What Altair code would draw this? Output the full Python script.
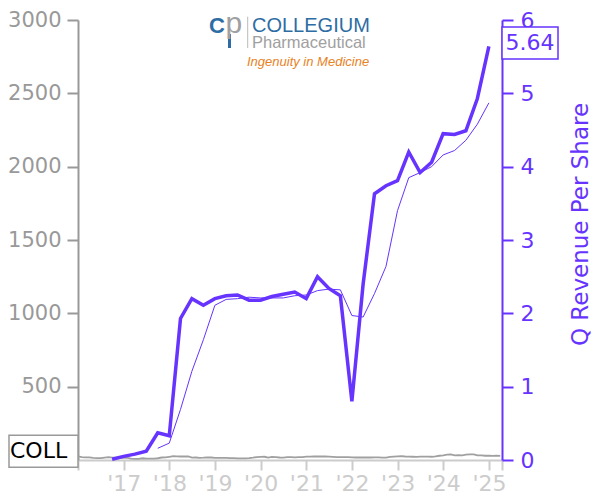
import altair as alt
import pandas as pd

# ---------------- data ----------------
quarter_ends = [
    "2016-09-30", "2016-12-31", "2017-03-31", "2017-06-30", "2017-09-30", "2017-12-31",
    "2018-03-31", "2018-06-30", "2018-09-30", "2018-12-31", "2019-03-31", "2019-06-30",
    "2019-09-30", "2019-12-31", "2020-03-31", "2020-06-30", "2020-09-30", "2020-12-31",
    "2021-03-31", "2021-06-30", "2021-09-30", "2021-12-31", "2022-03-31", "2022-06-30",
    "2022-09-30", "2022-12-31", "2023-03-31", "2023-06-30", "2023-09-30", "2023-12-31",
    "2024-03-31", "2024-06-30", "2024-09-30", "2024-12-31",
]
rev_per_share = [
    0.01, 0.05, 0.08, 0.12, 0.37, 0.33,
    1.93, 2.20, 2.11, 2.20, 2.24, 2.25,
    2.18, 2.18, 2.23, 2.26, 2.29, 2.20,
    2.50, 2.34, 2.24, 0.80, 2.40, 3.63,
    3.74, 3.81, 4.20, 3.92, 4.06, 4.45,
    4.44, 4.49, 4.93, 5.64,
]
avg_per_share = [
    None, None, None, None, 0.16, 0.23,
    0.69, 1.21, 1.64, 2.11, 2.19, 2.20,
    2.22, 2.21, 2.21, 2.21, 2.24, 2.25,
    2.31, 2.33, 2.32, 1.97, 1.95, 2.27,
    2.64, 3.40, 3.85, 3.92, 4.00, 4.16,
    4.22, 4.36, 4.58, 4.87,
]
price_months = [d.strftime("%Y-%m-%dT00:00:00") for d in pd.date_range("2016-01-01", "2025-04-01", freq="MS")]
price = [
    25, 20, 18, 18, 15, 13, 13, 16, 19, 16, 16, 15,
    15, 15, 10, 8, 8, 12, 10, 9, 10, 12, 17, 18,
    22, 26, 25, 24, 24, 24, 16, 17, 15, 16, 18, 17,
    15, 15, 15, 14, 13, 13, 11, 11, 11, 13, 16, 20,
    21, 22, 16, 21, 20, 17, 16, 19, 19, 18, 19, 20,
    23, 23, 24, 24, 24, 24, 23, 21, 19, 19, 19, 19,
    18, 17, 17, 17, 17, 17, 18, 18, 16, 16, 21, 23,
    25, 27, 24, 23, 22, 21, 23, 23, 23, 22, 24, 29,
    32, 37, 38, 32, 33, 32, 36, 38, 38, 32, 31, 29,
    30, 28, 29, 28,
]
ticker = "COLL"
right_title = "Q Revenue Per Share"
left_ticks = [500, 1000, 1500, 2000, 2500, 3000]
right_ticks = [0, 1, 2, 3, 4, 5, 6]
tick_years = list(range(2016, 2026))

df_q = pd.DataFrame({
    "date": [d + "T00:00:00" for d in quarter_ends],
    "rev": rev_per_share,
    "avg": avg_per_share,
})
df_p = pd.DataFrame({"date": price_months, "price": price})
df_q_last = df_q.tail(1)
df_p_last = df_p.tail(1)

purple = "#6633ff"
font = "DejaVu Sans"

x_vals = [alt.DateTime(year=y, month=1, date=1) for y in tick_years] + [alt.DateTime(year=2025, month=4, date=15)]
x_scale = alt.Scale(domain=[alt.DateTime(year=2016, month=1, date=1), alt.DateTime(year=2025, month=4, date=15)])
x_axis = alt.Axis(
    values=x_vals,
    labelExpr="(year(datum.value) < 2017 || month(datum.value) > 0) ? '' : \"'\" + timeFormat(datum.value, '%y')",
    domainColor="#cccccc", domainWidth=2, tickColor="#cccccc", tickWidth=2, tickSize=10,
    labelColor="#cccccc", labelFontSize=22, labelFont=font, labelPadding=3,
    labelFlush=False, labelOverlap=False, grid=False, title=None,
)
x_enc = alt.X("date:T", scale=x_scale, axis=x_axis)

left_scale = alt.Scale(domain=[0, 3000])
left_axis = alt.Axis(
    orient="left", values=left_ticks, format="d", tickSize=11, tickWidth=2, tickColor="#999999",
    domainColor="#999999", domainWidth=2, labelColor="#999999", labelFontSize=21,
    labelFont=font, labelPadding=6, labelFlush=False, grid=False, title=None,
)
right_scale = alt.Scale(domain=[0, 6])
right_axis = alt.Axis(
    orient="right", values=right_ticks, format="d", tickSize=11, tickWidth=2, tickColor=purple,
    domainColor=purple, domainWidth=2, labelColor=purple, labelFontSize=22,
    labelFont=font, labelPadding=7, labelFlush=False, grid=False,
    title=right_title, titleColor=purple, titleFontSize=23, titleFont=font,
    titleFontWeight="normal", titleAngle=270, titleAlign="center", titleBaseline="middle",
    titleX=78, titleY=204,
)

# ---------------- left (price) layers ----------------
y_left = alt.Y("price:Q", scale=left_scale, axis=left_axis)
price_line = alt.Chart(df_p).mark_line(color="#a0a0a0", strokeWidth=1.8).encode(
    x=x_enc, y=y_left
)
coll_box = alt.Chart(df_p_last).mark_point(
    shape="M-1,-0.464L1,-0.464L1,0.464L-1,0.464Z", size=69 * 69, filled=True,
    fill="white", stroke="#999999", strokeWidth=1.5, opacity=1, yOffset=-4.7,
).encode(x=alt.value(-34.5), y=y_left)
coll_text = alt.Chart(df_p_last).mark_text(
    align="left", baseline="middle", fontSize=22, font=font, color="black", yOffset=-4.7,
).encode(x=alt.value(-68), y=y_left, text=alt.value(ticker))
left = alt.layer(price_line, coll_box, coll_text)

# ---------------- right (revenue per share) layers ----------------
avg_line = alt.Chart(df_q).mark_line(color=purple, strokeWidth=1).encode(
    x=x_enc, y=alt.Y("avg:Q", scale=right_scale, axis=right_axis)
)
rev_line = alt.Chart(df_q).mark_line(color=purple, strokeWidth=3.5).encode(
    x=x_enc, y=alt.Y("rev:Q", scale=right_scale, axis=right_axis)
)
rev_box = alt.Chart(df_q_last).mark_point(
    shape="M-1,-0.571L1,-0.571L1,0.571L-1,0.571Z", size=56 * 56, filled=True,
    fill="white", stroke=purple, strokeWidth=1.5, opacity=1, yOffset=-3.5,
).encode(x=alt.value(452), y=alt.Y("rev:Q", scale=right_scale, axis=right_axis))
rev_text = alt.Chart(df_q_last).mark_text(
    align="center", baseline="middle", fontSize=22, font=font, color=purple, yOffset=-3.5,
).encode(x=alt.value(452), y=alt.Y("rev:Q", scale=right_scale, axis=right_axis),
         text=alt.Text("rev:Q", format=".2f"))
right = alt.layer(avg_line, rev_line, rev_box, rev_text)

# ---------------- logo (text) ----------------
one = pd.DataFrame({"k": [0]})
logo_stem = alt.Chart(one).mark_rule(color="#2e6da4", strokeWidth=3).encode(
    x=alt.value(151.5), y=alt.value(14), y2=alt.value(28)
)
logo_c = alt.Chart(one).mark_text(
    text="C", align="left", baseline="alphabetic", fontSize=22, font="Liberation Sans",
    fontWeight="bold", color="#2e6da4",
).encode(x=alt.value(131), y=alt.value(13))
logo_p = alt.Chart(one).mark_text(
    text="p", align="left", baseline="alphabetic", fontSize=30, font="Liberation Sans",
    color="#a0a0a0",
).encode(x=alt.value(147.5), y=alt.value(13))
logo_div = alt.Chart(one).mark_rule(color="#bbbbbb", strokeWidth=1).encode(
    x=alt.value(169.7), y=alt.value(-3.3), y2=alt.value(28)
)
logo_name = alt.Chart(one).mark_text(
    text="COLLEGIUM", align="left", baseline="alphabetic", fontSize=20,
    font="Liberation Sans", color="#2e6da4",
).encode(x=alt.value(174), y=alt.value(12.3))
logo_pharma = alt.Chart(one).mark_text(
    text="Pharmaceutical", align="left", baseline="alphabetic", fontSize=16.5,
    font="Liberation Sans", color="#a0a0a0",
).encode(x=alt.value(174), y=alt.value(27.5))
logo_tag = alt.Chart(one).mark_text(
    text="Ingenuity in Medicine", align="left", baseline="alphabetic", fontSize=13,
    font="Liberation Sans", fontStyle="italic", color="#e8821e",
).encode(x=alt.value(169), y=alt.value(46))
logo = alt.layer(logo_stem, logo_c, logo_p, logo_div, logo_name, logo_pharma, logo_tag)

chart = alt.layer(left, right, logo).resolve_scale(y="independent").properties(
    width=424, height=440,
    autosize=alt.AutoSizeParams(type="none"),
    padding={"left": 70, "top": 12, "right": 90, "bottom": 40},
).configure_view(stroke=None)

chart.save("out.html", embed_options={"renderer": "svg", "actions": False})
